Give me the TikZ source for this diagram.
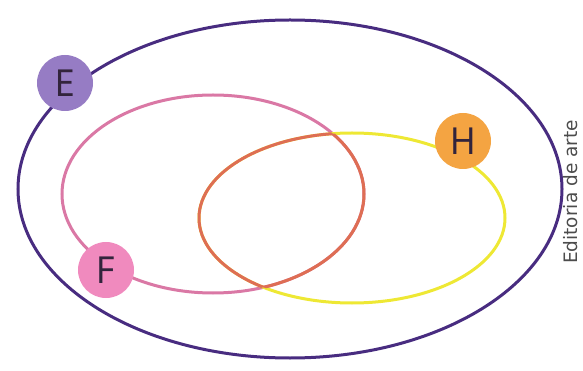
\documentclass[tikz,border=0pt]{standalone}
\usepackage{fontspec}
\setmainfont{PT Sans}
\newfontfamily\creditfont{DejaVu Sans}
\usepackage{tikz}
\usetikzlibrary{positioning}
\definecolor{setpurple}{RGB}{72, 44, 128}
\definecolor{setpink}{RGB}{218, 120, 165}
\definecolor{setyellow}{RGB}{238, 232, 52}
\definecolor{setorange}{RGB}{222, 110, 84}
\definecolor{labelE}{RGB}{150, 124, 196}
\definecolor{labelF}{RGB}{240, 138, 190}
\definecolor{labelH}{RGB}{244, 164, 66}
\definecolor{letterdark}{RGB}{50, 36, 60}

\begin{document}
\begin{tikzpicture}[
    x=1pt, y=-1pt,
    setline/.style={line width=3pt},
    tag/.style={circle, minimum size=56pt, inner sep=0pt, font=\fontsize{38}{40}\selectfont, text=letterdark}
  ]
    \useasboundingbox (0,0) rectangle (583,371);
    % universe
    \draw[setline, setpurple] (290,189) ellipse [x radius=272, y radius=169];
    % sets F and H
    \draw[setline, setpink] (213,194) ellipse [x radius=151, y radius=99];
    \draw[setline, setyellow] (352,218) ellipse [x radius=153, y radius=85];
    % overlap boundary
    \begin{scope}
      \clip (352,218) ellipse [x radius=153, y radius=85];
      \draw[setline, setorange] (213,194) ellipse [x radius=151, y radius=99];
    \end{scope}
    \begin{scope}
      \clip (213,194) ellipse [x radius=151, y radius=99];
      \draw[setline, setorange] (352,218) ellipse [x radius=153, y radius=85];
    \end{scope}
    % labels
    \node (E) [tag, fill=labelE] at (65,83) {E};
    \node (F) [tag, fill=labelF] at (106,270) {F};
    \node (H) [tag, fill=labelH] at (463,141) {H};
    \node (credit) [rotate=90, text=black!70, font=\creditfont\fontsize{18.5}{20}\selectfont] at (571,192) {Editoria de arte};
  \end{tikzpicture}
\end{document}
